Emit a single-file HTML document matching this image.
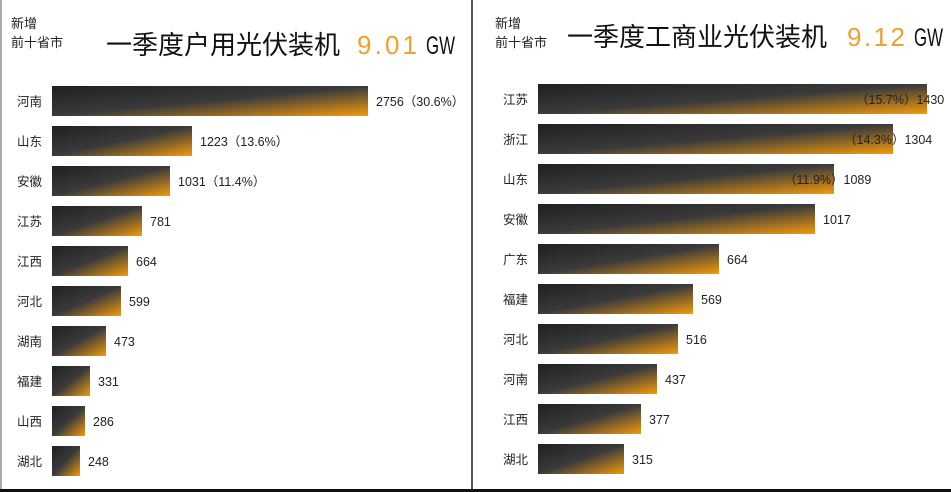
<!DOCTYPE html>
<html><head><meta charset="utf-8"><style>
html,body{margin:0;padding:0;background:#fff;width:951px;height:492px;overflow:hidden}
text{font-family:"Liberation Sans","Noto Sans CJK SC",sans-serif}
</style></head><body>
<svg width="951" height="492" xmlns="http://www.w3.org/2000/svg">
<defs>
<linearGradient id="g" x1="0" y1="0" x2="1" y2="1">
<stop offset="0" stop-color="#202020"/><stop offset="0.5" stop-color="#3a3a3a"/><stop offset="1" stop-color="#f49b0b"/>
</linearGradient>
</defs>
<rect x="0" y="0" width="2" height="492" fill="#aaa"/>
<rect x="471" y="0" width="2" height="492" fill="#555"/>
<rect x="0" y="489" width="951" height="3" fill="#111"/>
<g font-size="13" fill="#222">
<text x="11" y="28">新增</text><text x="11" y="47">前十省市</text>
<text x="495" y="28">新增</text><text x="495" y="47">前十省市</text>
</g>
<text x="106" y="54" font-size="26" fill="#111">一季度户用光伏装机</text>
<text x="357" y="54" font-size="26" fill="#f0a030" textLength="60" lengthAdjust="spacing">9.01</text>
<text x="426" y="54" font-size="25" fill="#111" textLength="29" lengthAdjust="spacingAndGlyphs">GW</text>
<text x="567" y="46" font-size="26" fill="#111">一季度工商业光伏装机</text>
<text x="847" y="46" font-size="26" fill="#f0a030" textLength="58" lengthAdjust="spacing">9.12</text>
<text x="914" y="46" font-size="25" fill="#111" textLength="29" lengthAdjust="spacingAndGlyphs">GW</text>
<g font-size="12.5" fill="#222">
<rect x="52" y="86" width="316" height="30" fill="url(#g)"/><text x="17" y="106">河南</text><text x="376" y="106">2756（30.6%）</text>
<rect x="52" y="126" width="140" height="30" fill="url(#g)"/><text x="17" y="146">山东</text><text x="200" y="146">1223（13.6%）</text>
<rect x="52" y="166" width="118" height="30" fill="url(#g)"/><text x="17" y="186">安徽</text><text x="178" y="186">1031（11.4%）</text>
<rect x="52" y="206" width="90" height="30" fill="url(#g)"/><text x="17" y="226">江苏</text><text x="150" y="226">781</text>
<rect x="52" y="246" width="76" height="30" fill="url(#g)"/><text x="17" y="266">江西</text><text x="136" y="266">664</text>
<rect x="52" y="286" width="69" height="30" fill="url(#g)"/><text x="17" y="306">河北</text><text x="129" y="306">599</text>
<rect x="52" y="326" width="54" height="30" fill="url(#g)"/><text x="17" y="346">湖南</text><text x="114" y="346">473</text>
<rect x="52" y="366" width="38" height="30" fill="url(#g)"/><text x="17" y="386">福建</text><text x="98" y="386">331</text>
<rect x="52" y="406" width="33" height="30" fill="url(#g)"/><text x="17" y="426">山西</text><text x="93" y="426">286</text>
<rect x="52" y="446" width="28" height="30" fill="url(#g)"/><text x="17" y="466">湖北</text><text x="88" y="466">248</text>
<rect x="538" y="84" width="389" height="30" fill="url(#g)"/><text x="503" y="104">江苏</text><text x="856" y="104">（15.7%）1430</text>
<rect x="538" y="124" width="355" height="30" fill="url(#g)"/><text x="503" y="144">浙江</text><text x="844" y="144">（14.3%）1304</text>
<rect x="538" y="164" width="296" height="30" fill="url(#g)"/><text x="503" y="184">山东</text><text x="784" y="184">（11.9%）1089</text>
<rect x="538" y="204" width="277" height="30" fill="url(#g)"/><text x="503" y="224">安徽</text><text x="823" y="224">1017</text>
<rect x="538" y="244" width="181" height="30" fill="url(#g)"/><text x="503" y="264">广东</text><text x="727" y="264">664</text>
<rect x="538" y="284" width="155" height="30" fill="url(#g)"/><text x="503" y="304">福建</text><text x="701" y="304">569</text>
<rect x="538" y="324" width="140" height="30" fill="url(#g)"/><text x="503" y="344">河北</text><text x="686" y="344">516</text>
<rect x="538" y="364" width="119" height="30" fill="url(#g)"/><text x="503" y="384">河南</text><text x="665" y="384">437</text>
<rect x="538" y="404" width="103" height="30" fill="url(#g)"/><text x="503" y="424">江西</text><text x="649" y="424">377</text>
<rect x="538" y="444" width="86" height="30" fill="url(#g)"/><text x="503" y="464">湖北</text><text x="632" y="464">315</text>
</g>
</svg>
</body></html>
